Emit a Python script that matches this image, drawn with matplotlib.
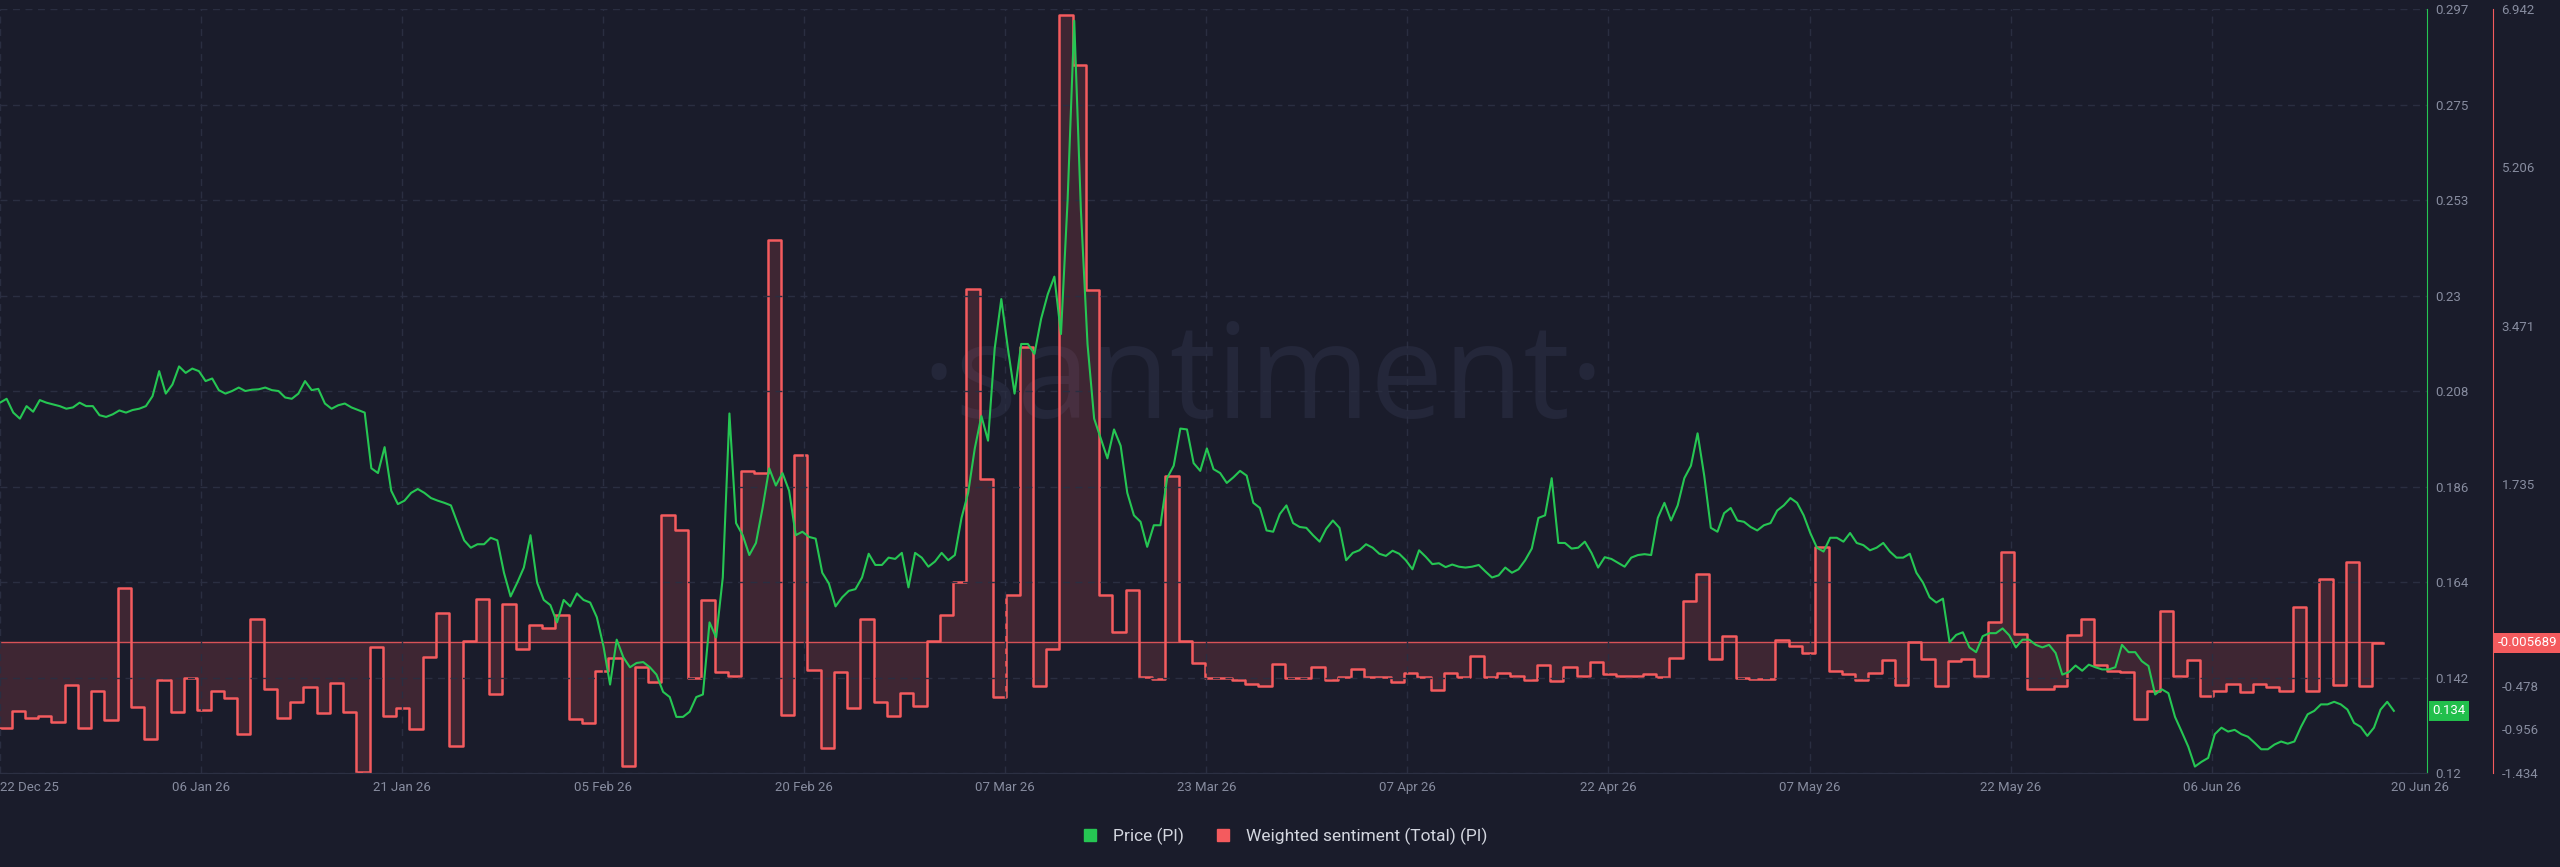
import numpy as np
import pandas as pd
import matplotlib
matplotlib.use("Agg")
import matplotlib.pyplot as plt
from matplotlib.lines import Line2D

# price of PI, one value every 12 hours starting 22 Dec 25
price = [
    0.2058, 0.2067, 0.2035, 0.2021, 0.2050, 0.2037, 0.2064, 0.2058, 0.2054, 0.2050,
    0.2044, 0.2047, 0.2058, 0.2050, 0.2050, 0.2029, 0.2025, 0.2031, 0.2040, 0.2035,
    0.2041, 0.2044, 0.2050, 0.2073, 0.2131, 0.2079, 0.2100, 0.2142, 0.2127, 0.2137,
    0.2131, 0.2108, 0.2114, 0.2087, 0.2079, 0.2085, 0.2093, 0.2085, 0.2088, 0.2089,
    0.2093, 0.2087, 0.2085, 0.2070, 0.2067, 0.2079, 0.2108, 0.2087, 0.2090, 0.2056,
    0.2044, 0.2052, 0.2056, 0.2047, 0.2041, 0.2035, 0.1906, 0.1895, 0.1955, 0.1854,
    0.1823, 0.1831,
    0.1849, 0.1858, 0.1849, 0.1837, 0.1831, 0.1826, 0.1820, 0.1779, 0.1739, 0.1722,
    0.1730, 0.1730, 0.1745, 0.1739, 0.1664, 0.1609, 0.1641, 0.1676, 0.1751, 0.1641,
    0.1601, 0.1589, 0.1549, 0.1601, 0.1586, 0.1616, 0.1601, 0.1595, 0.1561, 0.1494,
    0.1405, 0.1509, 0.1468, 0.1445, 0.1455, 0.1457, 0.1445, 0.1428, 0.1388, 0.1376,
    0.1330, 0.1330, 0.1342, 0.1376, 0.1382, 0.1549, 0.1514, 0.1653, 0.2033, 0.1779,
    0.1751, 0.1705, 0.1733, 0.1814, 0.1906, 0.1866, 0.1895, 0.1854, 0.1751, 0.1759,
    0.1747,
    0.1743, 0.1664, 0.1639, 0.1586, 0.1607, 0.1622, 0.1626, 0.1653, 0.1708, 0.1682,
    0.1682, 0.1699, 0.1696, 0.1710, 0.1630, 0.1710, 0.1699, 0.1678, 0.1690, 0.1710,
    0.1693, 0.1705, 0.1791, 0.1849, 0.1952, 0.2027, 0.1970, 0.2183, 0.2298, 0.2183,
    0.2079, 0.2194, 0.2194, 0.2171, 0.2252, 0.2309, 0.2350, 0.2217, 0.2528, 0.2943,
    0.2505, 0.2194, 0.2021, 0.1975, 0.1929, 0.1996, 0.1958, 0.1849, 0.1797, 0.1782,
    0.1724, 0.1774, 0.1774, 0.1883, 0.1912, 0.1998, 0.1996, 0.1918, 0.1900, 0.1952,
    0.1904, 0.1895, 0.1872, 0.1885, 0.1900, 0.1889, 0.1826, 0.1814, 0.1762, 0.1759,
    0.1800, 0.1820, 0.1779, 0.1770, 0.1768, 0.1751, 0.1736, 0.1766, 0.1785, 0.1768,
    0.1693, 0.1710, 0.1716, 0.1730, 0.1722, 0.1708, 0.1703, 0.1715, 0.1708, 0.1693,
    0.1672, 0.1716, 0.1701, 0.1684, 0.1686, 0.1677, 0.1683, 0.1678, 0.1676, 0.1678,
    0.1682, 0.1667, 0.1653, 0.1658, 0.1676, 0.1664, 0.1672, 0.1693, 0.1720, 0.1791,
    0.1797, 0.1883, 0.1733, 0.1733, 0.1720, 0.1722, 0.1736, 0.1710, 0.1676, 0.1700,
    0.1696, 0.1687, 0.1678, 0.1699, 0.1705, 0.1707, 0.1705, 0.1791, 0.1826, 0.1785,
    0.1820, 0.1883, 0.1912, 0.1987, 0.1889, 0.1768, 0.1759, 0.1802, 0.1814, 0.1785,
    0.1782, 0.1770, 0.1762, 0.1774, 0.1779, 0.1808, 0.1820, 0.1837, 0.1826, 0.1797,
    0.1756, 0.1722, 0.1713, 0.1745, 0.1745, 0.1736, 0.1756, 0.1733, 0.1728, 0.1716,
    0.1722, 0.1733, 0.1713, 0.1699, 0.1699, 0.1708, 0.1664, 0.1641, 0.1607, 0.1595,
    0.1604, 0.1503, 0.1520, 0.1526, 0.1491, 0.1480, 0.1517, 0.1524, 0.1524, 0.1535,
    0.1519,
    0.1491, 0.1509, 0.1509, 0.1497, 0.1491, 0.1497, 0.1478, 0.1428, 0.1434, 0.1449,
    0.1437, 0.1451, 0.1445, 0.1440, 0.1440, 0.1445, 0.1497, 0.1480, 0.1480, 0.1459,
    0.1448, 0.1382, 0.1394, 0.1385, 0.1330, 0.1296, 0.1261, 0.1215, 0.1226, 0.1235,
    0.1290, 0.1305, 0.1296, 0.1300, 0.1290, 0.1284, 0.1270, 0.1255, 0.1255, 0.1266,
    0.1273, 0.1268, 0.1273, 0.1307, 0.1336, 0.1344, 0.1359, 0.1359, 0.1365, 0.1359,
    0.1347, 0.1316, 0.1307, 0.1286, 0.1305, 0.1347, 0.1365, 0.1344,
]

# daily weighted sentiment
sentiment = [
    -0.944, -0.753, -0.829, -0.808, -0.873, -0.464, -0.944, -0.535, -0.851, 0.589,
    -0.709, -1.064, -0.409, -0.769, -0.393, -0.742, -0.535, -0.617, -1.009, 0.251,
    -0.513, -0.829, -0.655, -0.486, -0.780, -0.442, -0.764, -1.419, -0.049, -0.808,
    -0.720,
    -0.949, -0.158, 0.316, -1.135, 0.016, 0.475, -0.573, 0.420, -0.076, 0.191,
    0.158, 0.295, -0.840, -0.889, -0.316, -0.169, -1.353, -0.267, -0.431, 1.397,
    1.233, -0.387, 0.458, -0.327, -0.371, 1.877, 1.850, 4.408, -0.797, 2.057,
    -0.306, -1.162, -0.327, -0.726, 0.256, -0.655, -0.808, -0.557, -0.698, 0.016,
    0.300, 0.660, 3.868, 1.784, -0.606, 0.518, 3.241, -0.480, -0.071, 6.875,
    6.324, 3.863, 0.513, 0.109, 0.567, -0.382, -0.398, 1.822, 0.011, -0.224,
    -0.390,
    -0.387, -0.409, -0.453, -0.480, -0.240, -0.387, -0.387, -0.267, -0.409, -0.382,
    -0.295, -0.376, -0.382, -0.431, -0.333, -0.382, -0.524, -0.338, -0.376, -0.153,
    -0.382, -0.333, -0.366, -0.415, -0.246, -0.420, -0.267, -0.371, -0.218,
    -0.346,
    -0.371, -0.371, -0.344, -0.382, -0.169, 0.447, 0.747, -0.180, 0.065, -0.387,
    -0.398, -0.404, 0.022, -0.044, -0.120, 1.042, -0.316, -0.344, -0.409, -0.333,
    -0.191, -0.469, 0.005, -0.180, -0.480, -0.207, -0.180, -0.366, 0.224, 0.988,
    0.093, -0.518, -0.518, -0.480, 0.082, 0.251, -0.246, -0.316, -0.327, -0.846,
    -0.535, 0.338, -0.371, -0.191, -0.595, -0.540, -0.453, -0.546, -0.458, -0.496,
    -0.540, 0.382, -0.535, 0.693, -0.464, 0.884, -0.480, -0.005689,
]

tick_labels = ["22 Dec 25", "06 Jan 26", "21 Jan 26", "05 Feb 26", "20 Feb 26", "07 Mar 26",
               "23 Mar 26", "07 Apr 26", "22 Apr 26", "07 May 26", "22 May 26", "06 Jun 26"]
end_label = "20 Jun 26"
price_labels = ["0.12", "0.142", "0.164", "0.186", "0.208", "0.23", "0.253", "0.275", "0.297"]
sent_labels = ["-1.434", "-0.956", "-0.478", "1.735", "3.471", "5.206", "6.942"]

bg = "#1a1c2b"
green = "#26c653"
red = "#f45b5e"
grid_c = "#2a2e41"
tick_c = "#878c9f"

plt.rcParams['font.family'] = ['Roboto', 'DejaVu Sans']

start = pd.Timestamp("2025-12-22")
price_t = pd.date_range(start, periods=len(price), freq="12h")
sent_t = pd.date_range(start - pd.Timedelta(hours=3), periods=len(sentiment), freq="D")
sent_tx = list(sent_t) + [sent_t[-1] + pd.Timedelta(hours=20)]
sent_vx = sentiment + [sentiment[-1]]

fig = plt.figure(figsize=(25.6, 8.67), dpi=100, facecolor=bg)
ax = fig.add_axes([0.0, 0.1084, 2427 / 2560, 0.8812])
ax2 = ax.twinx()
ax.set_zorder(2)
ax2.set_zorder(1)
ax.patch.set_visible(False)
ax2.patch.set_facecolor(bg)

# watermark
fig.text(0.4935, 1 - 384 / 867, "·santiment·", color="#24273a", fontsize=94,
         ha="center", va="center", family=["Open Sans", "DejaVu Sans"], zorder=0)

# sentiment
ax2.fill_between(sent_tx, sent_vx, 0, step="post", color=red, alpha=0.17, lw=0)
ax2.step(sent_tx, sent_vx, where="post", color=red, lw=1.8)
ax2.hlines(0, sent_tx[0], sent_tx[-1], color=red, lw=1.0, alpha=0.85)

# price
ax.plot(price_t, price, color=green, lw=1.5)

x_end = start + pd.Timedelta(days=183.0)
ax.set_xlim(start, x_end)
ax.set_ylim(0.12, 0.297)
ax2.set_ylim(-1.434, 6.942)

tick_pos = [start + pd.Timedelta(days=15.16 * k) for k in range(len(tick_labels))]
ax.set_xticks(tick_pos + [start + pd.Timedelta(days=182.5)])
ax.set_xticklabels(tick_labels + [end_label])
ax.get_xticklabels()[0].set_ha("left")

ax.yaxis.tick_right()
ax.set_yticks(np.linspace(0.12, 0.297, len(price_labels)))
ax.set_yticklabels(price_labels)
s_top = [6.942 * k / 4 for k in range(1, 5)]
s_bot = [-1.434 * k / 3 for k in range(3, 0, -1)]
ax2.set_yticks(s_bot + s_top)
ax2.set_yticklabels(sent_labels)

ax.grid(True, color=grid_c, ls=(0, (5, 4)), lw=1.0)
ax.get_xgridlines()[-1].set_visible(False)

ax.tick_params(axis="both", length=0, colors=tick_c, labelsize=9.5)
ax.tick_params(axis="y", pad=5.8)
ax.tick_params(axis="x", pad=6)
ax2.tick_params(axis="y", length=0, colors=tick_c, labelsize=9.5, pad=6.2)

for s in ["top", "left"]:
    ax.spines[s].set_visible(False)
    ax2.spines[s].set_visible(False)
ax2.spines["bottom"].set_visible(False)
ax.spines["bottom"].set_color("#2c3043")
ax.spines["right"].set_color(green)
ax2.spines["right"].set_color(red)
ax2.spines["right"].set_position(("outward", 47.5))

# last value tags
ax.annotate(f"{price[-1]:.3f}", xy=(1.0, price[-1]), xycoords=("axes fraction", "data"),
            xytext=(4, 0), textcoords="offset points", ha="left", va="center",
            fontsize=9.5, color="white",
            bbox=dict(boxstyle="square,pad=0.28", fc="#22bf4c", ec="none"))
ax2.annotate(f"{sentiment[-1]:.6f}", xy=(1.0, sentiment[-1]), xycoords=("axes fraction", "data"),
             xytext=(51, 0), textcoords="offset points", ha="left", va="center",
             fontsize=9.5, color="white", annotation_clip=False,
             bbox=dict(boxstyle="square,pad=0.28", fc=red, ec="none"))

handles = [Line2D([], [], marker="s", ls="none", color=green, markersize=9),
           Line2D([], [], marker="s", ls="none", color=red, markersize=9)]
fig.legend(handles, ["Price (PI)", "Weighted sentiment (Total) (PI)"], loc="center",
           bbox_to_anchor=(0.5, 1 - 836 / 867), ncol=2, frameon=False,
           labelcolor="#d3d6df", fontsize=12.5, handletextpad=0.3, columnspacing=1.3)

fig.savefig("out.png", dpi=100, facecolor=bg)
